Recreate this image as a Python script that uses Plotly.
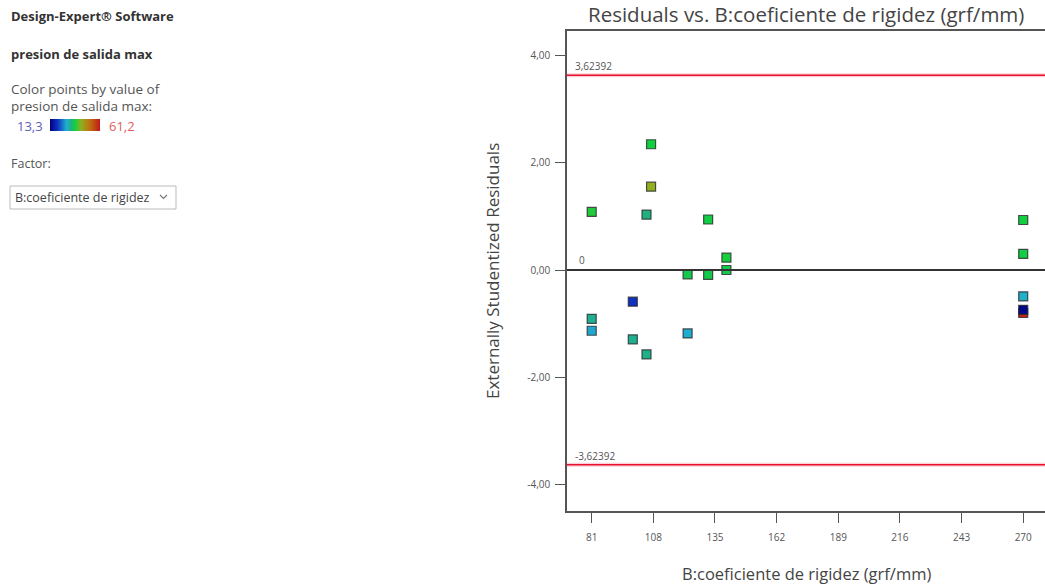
import plotly.graph_objects as go

# Factor B settings (grf/mm), externally studentized residuals, and response values
coef_rigidez = [107, 107, 81, 105, 132, 140, 140, 123, 132, 99,
                81, 81, 123, 99, 105, 270, 270, 270, 270, 270]
residuals = [2.34, 1.55, 1.08, 1.03, 0.94, 0.23, 0.00, -0.08, -0.09, -0.59,
             -0.91, -1.13, -1.18, -1.29, -1.57, 0.93, 0.30, -0.49, -0.80, -0.74]
presion_salida = [37.3, 43.0, 38.0, 33.5, 37.0, 37.5, 36.5, 36.5, 36.5, 20.5,
                  32.5, 28.5, 29.0, 32.5, 33.0, 37.3, 37.0, 29.5, 60.0, 14.5]

limit = 3.62392
resp_min, resp_max = 13.3, 61.2

x_ticks = [81, 108, 135, 162, 189, 216, 243, 270]
x_ticktext = ["81", "108", "135", "162", "189", "216", "243", "270"]
y_ticks = [-4, -2, 0, 2, 4]
y_ticktext = ["-4,00", "-2,00", "0,00", "2,00", "4,00"]

W, H = 1045, 586
FONT = "Open Sans, Noto Sans, DejaVu Sans, sans-serif"


def px(x):
    return x / W


def py(y):
    return 1 - y / H


colorscale = [
    [0.0, "#000080"], [0.15, "#1030c0"], [0.33, "#20b0d0"], [0.42, "#20b080"],
    [0.5, "#10d040"], [0.62, "#90b020"], [0.8, "#c07010"], [1.0, "#c01818"],
]

fig = go.Figure()
fig.add_trace(go.Scatter(
    x=coef_rigidez, y=residuals, mode="markers",
    marker=dict(
        symbol="square", size=9,
        color=presion_salida, cmin=resp_min, cmax=resp_max,
        colorscale=colorscale,
        line=dict(color="rgba(40,40,40,0.8)", width=1.2),
        colorbar=dict(
            orientation="h", lenmode="pixels", len=50, thickness=12,
            x=px(75), xanchor="center", y=py(125), yanchor="middle",
            xpad=0, ypad=0, showticklabels=False, ticks="", outlinewidth=0,
        ),
    ),
    hoverinfo="skip", showlegend=False,
))

shapes = [
    # limit lines with soft halo
    dict(type="line", xref="x domain", x0=0, x1=1, yref="y", y0=limit, y1=limit,
         line=dict(color="rgba(240,120,140,0.35)", width=4)),
    dict(type="line", xref="x domain", x0=0, x1=1, yref="y", y0=limit, y1=limit,
         line=dict(color="#e8102c", width=1.5)),
    dict(type="line", xref="x domain", x0=0, x1=1, yref="y", y0=-limit, y1=-limit,
         line=dict(color="rgba(240,120,140,0.35)", width=4)),
    dict(type="line", xref="x domain", x0=0, x1=1, yref="y", y0=-limit, y1=-limit,
         line=dict(color="#e8102c", width=1.5)),
    # zero reference
    dict(type="line", xref="x domain", x0=0, x1=1, yref="y", y0=0, y1=0,
         line=dict(color="#333333", width=2)),
    # factor dropdown box
    dict(type="rect", xref="paper", yref="paper", x0=px(10), x1=px(176),
         y0=py(209), y1=py(186), line=dict(color="#bbbbbb", width=1),
         fillcolor="white", layer="below"),
    dict(type="path", xref="paper", yref="paper",
         path=f"M {px(160)} {py(195)} L {px(163.5)} {py(198.5)} L {px(167)} {py(195)}",
         line=dict(color="#777777", width=1.2)),
]

annotations = [
    dict(text="Residuals vs. B:coeficiente de rigidez (grf/mm)", x=px(806), y=py(14),
         font=dict(size=20.5, color="#444444", family=FONT)),
    dict(text="Externally Studentized Residuals", x=px(492), y=py(271), textangle=-90,
         font=dict(size=17, color="#444444", family=FONT)),
    dict(text="B:coeficiente de rigidez (grf/mm)", x=px(806), y=py(573.5),
         font=dict(size=16.5, color="#444444", family=FONT)),
    # limit and zero labels
    dict(text="3,62392", xref="x domain", x=0.012, xanchor="left", yref="y", y=limit,
         yanchor="bottom", font=dict(size=10, color="#555555", family=FONT)),
    dict(text="-3,62392", xref="x domain", x=0.012, xanchor="left", yref="y", y=-limit,
         yanchor="bottom", font=dict(size=10, color="#555555", family=FONT)),
    dict(text="0", xref="x domain", x=0.02, xanchor="left", yref="y", y=0,
         yanchor="bottom", yshift=1, font=dict(size=10, color="#555555", family=FONT)),
    # side panel
    dict(text="<b>Design-Expert® Software</b>", x=px(9), y=py(16), xanchor="left",
         font=dict(size=13, color="#333333", family=FONT)),
    dict(text="<b>presion de salida max</b>", x=px(9), y=py(54), xanchor="left",
         font=dict(size=13, color="#333333", family=FONT)),
    dict(text="Color points by value of", x=px(9), y=py(89), xanchor="left",
         font=dict(size=13.5, color="#555555", family=FONT)),
    dict(text="presion de salida max:", x=px(9), y=py(106), xanchor="left",
         font=dict(size=13.5, color="#555555", family=FONT)),
    dict(text="13,3", x=px(15), y=py(126), xanchor="left",
         font=dict(size=13, color="#6060c0", family=FONT)),
    dict(text="61,2", x=px(107), y=py(126), xanchor="left",
         font=dict(size=13, color="#e06060", family=FONT)),
    dict(text="Factor:", x=px(9), y=py(163), xanchor="left",
         font=dict(size=12.5, color="#555555", family=FONT)),
    dict(text="B:coeficiente de rigidez", x=px(13), y=py(197.5), xanchor="left",
         font=dict(size=12.5, color="#444444", family=FONT)),
]
for a in annotations:
    a.setdefault("xref", "paper")
    a.setdefault("yref", "paper")
    a.setdefault("xanchor", "center")
    a.setdefault("yanchor", "middle")
    a["showarrow"] = False

fig.update_layout(
    width=W, height=H,
    margin=dict(l=0, r=0, t=0, b=0, autoexpand=False),
    paper_bgcolor="white", plot_bgcolor="white",
    shapes=shapes, annotations=annotations,
    xaxis=dict(
        domain=[px(567), 1.0], range=[70.18, 279.54],
        tickvals=x_ticks, ticktext=x_ticktext,
        ticks="outside", ticklen=10, tickcolor="#555555", tickwidth=1,
        ticklabelstandoff=6,
        tickfont=dict(size=10, color="#555555", family=FONT),
        showline=True, linecolor="#555555", linewidth=1.5, mirror=True,
        showgrid=False, zeroline=False, fixedrange=True,
    ),
    yaxis=dict(
        domain=[75 / H, py(31)], range=[-4.484, 4.447],
        tickvals=y_ticks, ticktext=y_ticktext,
        ticks="outside", ticklen=10, tickcolor="#555555", tickwidth=1,
        ticklabelstandoff=3,
        tickfont=dict(size=10, color="#555555", family=FONT),
        showline=True, linecolor="#555555", linewidth=1.5,
        showgrid=False, zeroline=False, fixedrange=True,
    ),
)

fig.write_html("out.html")
